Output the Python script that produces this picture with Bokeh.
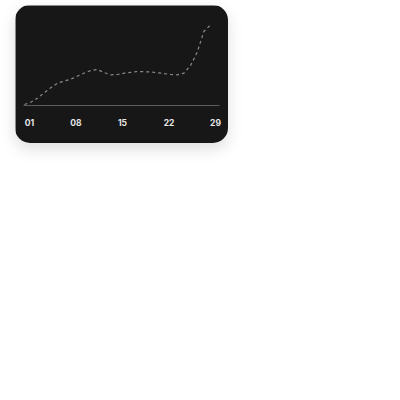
from bokeh.plotting import figure
from bokeh.models import ColumnDataSource, Range1d
from bokeh.core.properties import value
from bokeh.embed import file_html
from bokeh.resources import INLINE

# Data (arbitrary units)
days = list(range(1, 30))
values = [1.2, 4.3, 9.3, 16.0, 22.2, 27.8, 30.2, 32.7, 36.4, 40.1,
          43.2, 44.4, 40.7, 37.9, 38.3, 39.9, 41.0, 42.0, 41.7, 41.4,
          40.5, 39.5, 38.3, 37.9, 39.9, 49.4, 65.8, 91.4, 99.6]
tick_days = [1, 8, 15, 22, 29]
tick_labels = ["01", "08", "15", "22", "29"]

# axis extent (days) and label row position (value units)
axis_lo, axis_hi = 0.85, 30.35
label_y = -21

CARD = "#171717"

p = figure(width=213, height=138, output_backend="svg", toolbar_location=None,
           x_range=Range1d(-0.355, 31.71), y_range=Range1d(-46.9, 123.5),
           x_axis_location=None, y_axis_location=None,
           min_border_left=0, min_border_right=0, min_border_top=0,
           min_border_bottom=0,
           background_fill_color=CARD, border_fill_color=CARD,
           outline_line_color=None,
           styles={"border-radius": "15px", "overflow": "hidden",
                   "transform": "translate(15px, 5px)",
                   "box-shadow": "0 6px 16px rgba(0,0,0,0.13)"})
p.outline_line_color = None
p.grid.visible = False

# baseline (x axis line)
p.segment(x0=[axis_lo], y0=[0], x1=[axis_hi], y1=[0],
          line_color="#5e5e5e", line_width=1)

src = ColumnDataSource(dict(x=days, y=values))
p.line("x", "y", source=src, line_color="#8a8a8a", line_width=1.2,
       line_dash="3 3")

lab_src = ColumnDataSource(dict(x=tick_days, y=[label_y] * len(tick_days), t=tick_labels))
p.text(x="x", y="y", text="t", source=lab_src, x_offset=5,
       text_align="center", text_baseline="middle",
       text_font=value("Inter"), text_font_size="8.5px",
       text_font_style="bold", text_color="#e6e6e6")

open("out.html", "w").write(file_html(p, INLINE))
